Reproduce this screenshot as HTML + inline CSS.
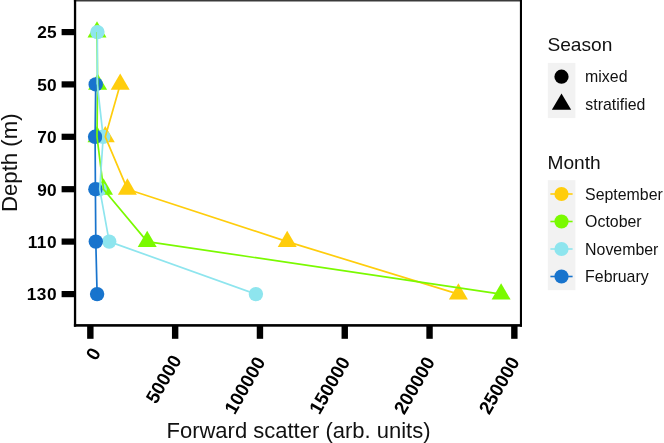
<!DOCTYPE html>
<html><head><meta charset="utf-8"><title>Forward scatter by depth</title>
<style>
html,body{margin:0;padding:0;background:#fff;}
body{width:664px;height:443px;overflow:hidden;}
svg{display:block;font-family:"Liberation Sans",Arial,sans-serif;}
.tk{font-weight:bold;font-size:17.3px;fill:#000;}
.at{font-size:22px;fill:#111;}
.lt{font-size:19.15px;fill:#111;}
.ll{font-size:15.9px;fill:#111;}
</style></head><body>
<svg width="664" height="443" viewBox="0 0 664 443">
<rect x="0" y="0" width="664" height="443" fill="#fff"/>
<g>
<polygon points="120.20,73.53 110.70,89.83 129.70,89.83" fill="#FFCD0C"/>
<polygon points="105.30,125.93 95.80,142.23 114.80,142.23" fill="#FFCD0C"/>
<polygon points="127.40,178.33 117.90,194.63 136.90,194.63" fill="#FFCD0C"/>
<polygon points="287.20,230.73 277.70,247.03 296.70,247.03" fill="#FFCD0C"/>
<polygon points="458.40,283.23 448.90,299.53 467.90,299.53" fill="#FFCD0C"/>
<polygon points="97.00,21.23 87.50,37.53 106.50,37.53" fill="#7AFA00"/>
<polygon points="97.60,73.53 88.10,89.83 107.10,89.83" fill="#7AFA00"/>
<polygon points="97.00,125.93 87.50,142.23 106.50,142.23" fill="#7AFA00"/>
<polygon points="103.50,178.33 94.00,194.63 113.00,194.63" fill="#7AFA00"/>
<polygon points="147.20,230.73 137.70,247.03 156.70,247.03" fill="#7AFA00"/>
<polygon points="501.10,283.23 491.60,299.53 510.60,299.53" fill="#7AFA00"/>
<circle cx="97.40" cy="32.10" r="7.2" fill="#8EE5EE"/>
<circle cx="103.20" cy="136.80" r="7.2" fill="#8EE5EE"/>
<circle cx="99.70" cy="189.20" r="7.2" fill="#8EE5EE"/>
<circle cx="109.20" cy="241.60" r="7.2" fill="#8EE5EE"/>
<circle cx="255.90" cy="294.10" r="7.2" fill="#8EE5EE"/>
<circle cx="95.70" cy="84.40" r="7.2" fill="#1874CD"/>
<circle cx="95.10" cy="136.80" r="7.2" fill="#1874CD"/>
<circle cx="95.40" cy="189.20" r="7.2" fill="#1874CD"/>
<circle cx="95.80" cy="241.60" r="7.2" fill="#1874CD"/>
<circle cx="97.10" cy="294.10" r="7.2" fill="#1874CD"/>
</g><g>
<polyline points="120.20,84.40 105.30,136.80 127.40,189.20 287.20,241.60 458.40,294.10" fill="none" stroke="#FFCD0C" stroke-width="1.7" stroke-linejoin="round"/>
<polyline points="97.00,32.10 97.60,84.40 97.00,136.80 103.50,189.20 147.20,241.60 501.10,294.10" fill="none" stroke="#7AFA00" stroke-width="1.7" stroke-linejoin="round"/>
<polyline points="97.40,32.10 97.30,84.40 103.20,136.80 99.70,189.20 109.20,241.60 255.90,294.10" fill="none" stroke="#8EE5EE" stroke-width="1.7" stroke-linejoin="round"/>
<polyline points="95.70,84.40 95.10,136.80 95.40,189.20 95.80,241.60 97.10,294.10" fill="none" stroke="#1874CD" stroke-width="1.7" stroke-linejoin="round"/>
</g>
<rect x="73.9" y="0" width="448.1" height="1.5" fill="#3a3a3a"/>
<rect x="73.9" y="0" width="2.3" height="326.7" fill="#000"/>
<rect x="519.9" y="0" width="2.1" height="326.7" fill="#000"/>
<rect x="73.9" y="324.1" width="448.1" height="2.6" fill="#000"/>
<rect x="61.6" y="29.00" width="13" height="6.2" fill="#000"/>
<text class="tk" x="56.6" y="38.40" text-anchor="end">25</text>
<rect x="61.6" y="81.30" width="13" height="6.2" fill="#000"/>
<text class="tk" x="56.6" y="90.70" text-anchor="end">50</text>
<rect x="61.6" y="133.70" width="13" height="6.2" fill="#000"/>
<text class="tk" x="56.6" y="143.10" text-anchor="end">70</text>
<rect x="61.6" y="186.10" width="13" height="6.2" fill="#000"/>
<text class="tk" x="56.6" y="195.50" text-anchor="end">90</text>
<rect x="61.6" y="238.50" width="13" height="6.2" fill="#000"/>
<text class="tk" x="57.1" y="247.90" text-anchor="end" letter-spacing="0.5">110</text>
<rect x="61.6" y="291.00" width="13" height="6.2" fill="#000"/>
<text class="tk" x="57.1" y="300.40" text-anchor="end" letter-spacing="0.5">130</text>
<rect x="87.15" y="326" width="6.4" height="12.8" fill="#000"/>
<text class="tk" style="font-size:18.7px" transform="translate(101.51,352.60) rotate(-60)" text-anchor="end">0</text>
<rect x="171.95" y="326" width="6.4" height="12.8" fill="#000"/>
<text class="tk" style="font-size:18.7px" transform="translate(182.15,359.80) rotate(-60)" text-anchor="end">50000</text>
<rect x="256.75" y="326" width="6.4" height="12.8" fill="#000"/>
<text class="tk" style="font-size:18.7px" transform="translate(265.91,361.60) rotate(-60)" text-anchor="end">100000</text>
<rect x="341.55" y="326" width="6.4" height="12.8" fill="#000"/>
<text class="tk" style="font-size:18.7px" transform="translate(350.71,361.60) rotate(-60)" text-anchor="end">150000</text>
<rect x="426.35" y="326" width="6.4" height="12.8" fill="#000"/>
<text class="tk" style="font-size:18.7px" transform="translate(435.51,361.60) rotate(-60)" text-anchor="end">200000</text>
<rect x="511.15" y="326" width="6.4" height="12.8" fill="#000"/>
<text class="tk" style="font-size:18.7px" transform="translate(520.31,361.60) rotate(-60)" text-anchor="end">250000</text>
<text class="at" x="298.5" y="438.3" text-anchor="middle">Forward scatter (arb. units)</text>
<text class="at" style="font-size:22.2px" transform="translate(17,162.7) rotate(-90)" text-anchor="middle">Depth (m)</text>
<text class="lt" x="547.4" y="50.9">Season</text>
<rect x="547.8" y="62.9" width="27.6" height="55.2" fill="#F2F2F2"/>
<circle cx="561.50" cy="76.70" r="7.1" fill="#000"/>
<polygon points="561.50,93.38 551.85,109.68 571.15,109.68" fill="#000"/>
<text class="ll" x="585.1" y="82.3">mixed</text>
<text class="ll" x="585.3" y="109.8">stratified</text>
<text class="lt" x="547.5" y="169.3">Month</text>
<rect x="547.8" y="180.2" width="27.6" height="110" fill="#F2F2F2"/>
<line x1="550.4" y1="194.0" x2="572.6" y2="194.0" stroke="#FFCD0C" stroke-width="1.6"/>
<circle cx="561.50" cy="194.00" r="7.1" fill="#FFCD0C"/>
<text class="ll" x="585.1" y="199.70">September</text>
<line x1="550.4" y1="221.5" x2="572.6" y2="221.5" stroke="#7AFA00" stroke-width="1.6"/>
<circle cx="561.50" cy="221.50" r="7.1" fill="#7AFA00"/>
<text class="ll" x="585.1" y="227.20">October</text>
<line x1="550.4" y1="249.0" x2="572.6" y2="249.0" stroke="#8EE5EE" stroke-width="1.6"/>
<circle cx="561.50" cy="249.00" r="7.1" fill="#8EE5EE"/>
<text class="ll" x="585.1" y="254.70">November</text>
<line x1="550.4" y1="276.5" x2="572.6" y2="276.5" stroke="#1874CD" stroke-width="1.6"/>
<circle cx="561.50" cy="276.50" r="7.1" fill="#1874CD"/>
<text class="ll" x="585.1" y="282.20">February</text>
</svg></body></html>
